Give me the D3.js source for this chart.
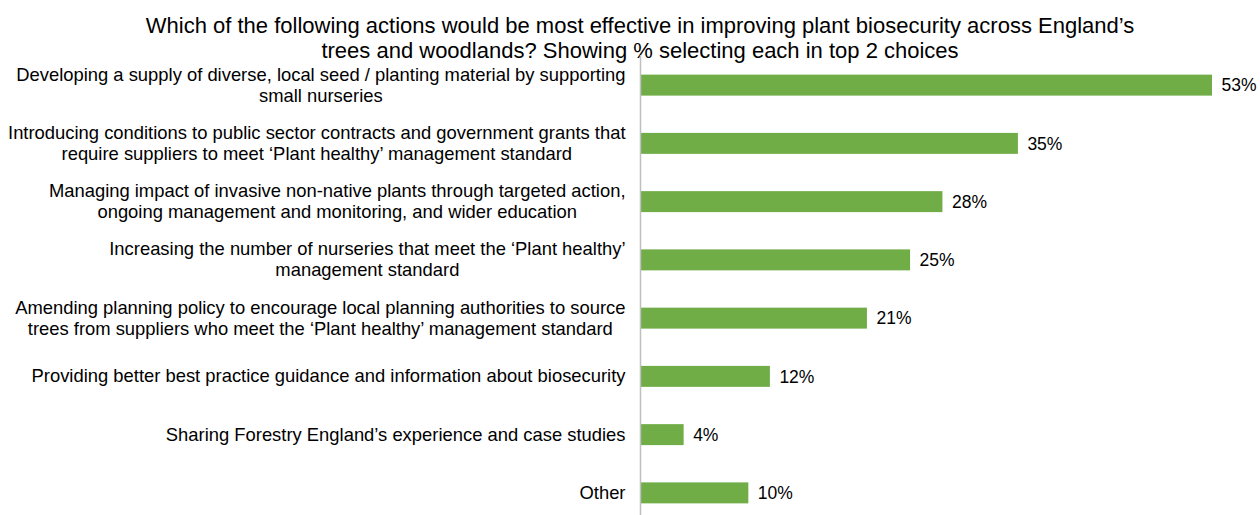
<!DOCTYPE html>
<html>
<head>
<meta charset="utf-8">
<script src="https://cdn.jsdelivr.net/npm/d3@7"></script>
<style>
  html, body { margin: 0; padding: 0; background: #fff; }
  svg { display: block; font-family: "Liberation Sans", Arial, sans-serif; }
</style>
</head>
<body>
<svg id="chart" width="1260" height="515"></svg>
<script>
// Survey responses: share of respondents choosing each action in their top 2
const titleLines = [
  "Which of the following actions would be most effective in improving plant biosecurity across England’s",
  "trees and woodlands? Showing % selecting each in top 2 choices"
];
const categories = [
  ["Developing a supply of diverse, local seed / planting material by supporting", "small nurseries"],
  ["Introducing conditions to public sector contracts and government grants that", "require suppliers to meet ‘Plant healthy’ management standard"],
  ["Managing impact of invasive non-native plants through targeted action,", "ongoing management and monitoring, and wider education"],
  ["Increasing the number of nurseries that meet the ‘Plant healthy’", "management standard"],
  ["Amending planning policy to encourage local planning authorities to source", "trees from suppliers who meet the ‘Plant healthy’ management standard"],
  ["Providing better best practice guidance and information about biosecurity"],
  ["Sharing Forestry England’s experience and case studies"],
  ["Other"]
];
const values = [53, 35, 28, 25, 21, 12, 4, 10];

const svg = d3.select("#chart");
const x0 = 640.5;
const x = d3.scaleLinear().domain([0, 53]).range([x0, 1212]);
const y = d3.scaleBand().domain(d3.range(categories.length)).range([56, 522]).paddingInner(0.64).paddingOuter(0.32);

// Title
svg.append("text")
  .attr("text-anchor", "middle")
  .style("font-size", "22px").style("fill", "#000")
  .selectAll("tspan").data(titleLines).join("tspan")
  .attr("x", 640).attr("y", (d, i) => 33 + i * 24.5)
  .text(d => d);

// Bars
svg.append("g").selectAll("rect").data(values).join("rect")
  .attr("x", x(0))
  .attr("y", (d, i) => y(i))
  .attr("width", d => x(d) - x(0))
  .attr("height", y.bandwidth())
  .attr("fill", "#70AD47");

// Value labels
svg.append("g").selectAll("text").data(values).join("text")
  .attr("x", d => x(d) + 9.5)
  .attr("y", (d, i) => y(i) + y.bandwidth() / 2)
  .attr("dy", "0.35em")
  .style("font-size", "17.5px").style("fill", "#000")
  .text(d => d + "%");

// Vertical axis line
svg.append("line")
  .attr("x1", x0).attr("x2", x0)
  .attr("y1", 55).attr("y2", 515)
  .attr("stroke", "#BFBFBF").attr("stroke-width", 1.5);

// Category labels: each block right-aligned to the axis, lines centred within the block
const labelRight = 625.5;
const lineH = 21;
const lg = svg.append("g");
categories.forEach((lines, i) => {
  const cy = y(i) + y.bandwidth() / 2;
  const t = lg.append("text")
    .style("font-size", "18.4px").style("fill", "#000")
    .attr("text-anchor", "middle");
  const spans = lines.map((s, k) => t.append("tspan")
    .attr("y", cy + (k - (lines.length - 1) / 2) * lineH)
    .attr("dy", "0.32em")
    .text(s));
  const widths = spans.map(sp => sp.node().getComputedTextLength());
  const blockW = d3.max(widths);
  spans.forEach(sp => sp.attr("x", labelRight - blockW / 2));
});
</script>
</body>
</html>
